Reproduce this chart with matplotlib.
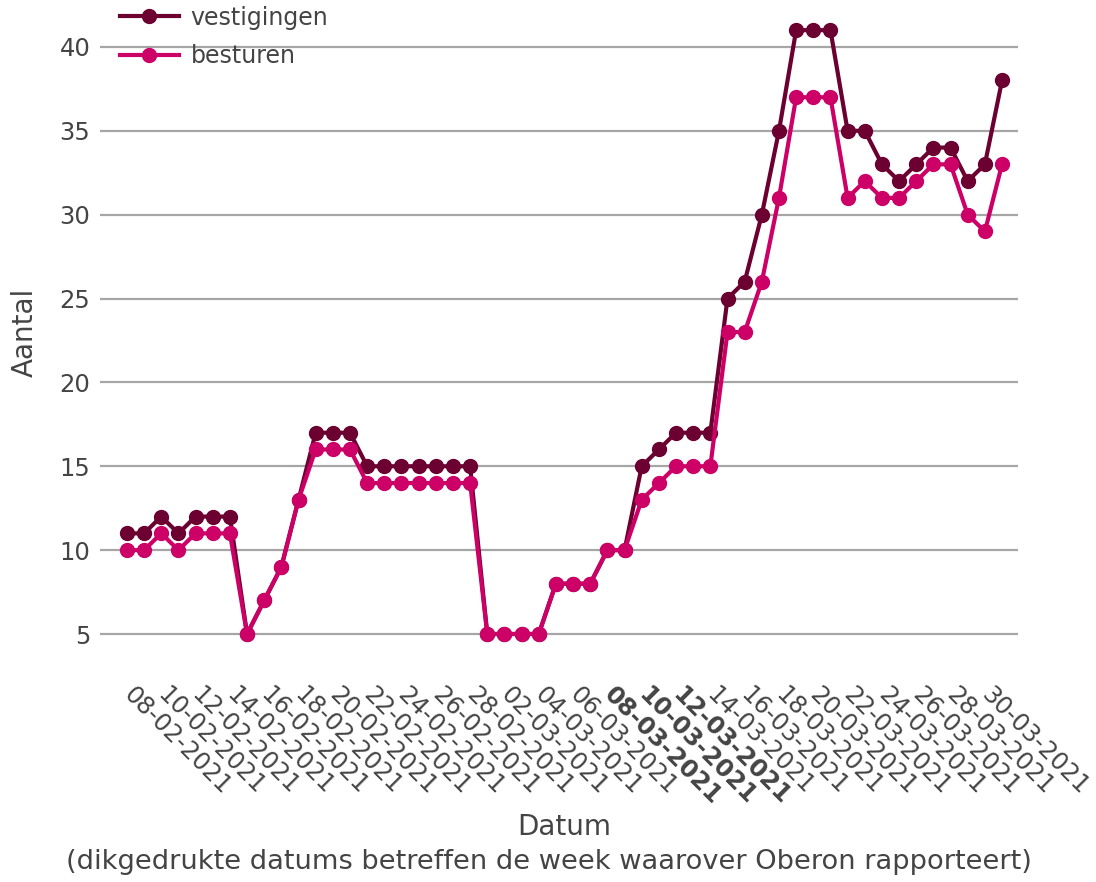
import matplotlib
matplotlib.use('Agg')
import matplotlib.pyplot as plt
import pandas as pd
import numpy as np

start_date = '2021-02-08'
end_date = '2021-03-31'
vestigingen = [11, 11, 12, 11, 12, 12, 12, 5, 7, 9, 13, 17, 17, 17,
               15, 15, 15, 15, 15, 15, 15, 5, 5, 5, 5, 8, 8, 8, 10, 10,
               15, 16, 17, 17, 17, 25, 26, 30, 35, 41, 41, 41, 35, 35,
               33, 32, 33, 34, 34, 32, 33, 38]
besturen = [10, 10, 11, 10, 11, 11, 11, 5, 7, 9, 13, 16, 16, 16,
            14, 14, 14, 14, 14, 14, 14, 5, 5, 5, 5, 8, 8, 8, 10, 10,
            13, 14, 15, 15, 15, 23, 23, 26, 31, 37, 37, 37, 31, 32,
            31, 31, 32, 33, 33, 30, 29, 33]
bold_labels = ['08-03-2021', '10-03-2021', '12-03-2021']
y_ticks = [5, 10, 15, 20, 25, 30, 35, 40]
series_names = ['vestigingen', 'besturen']
colors = ['#6b0031', '#cc0066']

dates = pd.date_range(start_date, end_date, freq='D')
tick_dates = dates[::2]
tick_labels = [d.strftime('%d-%m-%Y') for d in tick_dates]

TXT = '#444444'
plt.rcParams['font.family'] = ['DejaVu Sans']

W, H = 1096, 882
fig = plt.figure(figsize=(W / 100, H / 100), dpi=100)
ax = fig.add_axes([100 / W, 1 - 660 / H, 918 / W, 655 / H])

for vals, name, c in zip([vestigingen, besturen], series_names, colors):
    ax.plot(dates, vals, color=c, lw=3, marker='o', ms=10, label=name,
            zorder=3, clip_on=False)

ax.set_ylim(3.45, 42.5)
ax.set_xlim(dates[0] - pd.Timedelta(days=1.57), dates[0] + pd.Timedelta(days=51.93))
ax.set_yticks(y_ticks)
ax.set_xticks(tick_dates)
ax.set_xticklabels(tick_labels)
ax.grid(axis='y', color='#a6a6a6', lw=1.6, zorder=0)
ax.set_axisbelow(True)
for s in ax.spines.values():
    s.set_visible(False)
ax.tick_params(axis='both', length=0, colors=TXT, labelsize=17.5)
ax.tick_params(axis='y', pad=7)
ax.tick_params(axis='x', pad=22)
for lab in ax.get_xticklabels():
    lab.set_rotation(-45)
    lab.set_rotation_mode('anchor')
    lab.set_ha('left')
    lab.set_va('center')
    if lab.get_text() in bold_labels:
        lab.set_fontweight('bold')

ax.set_ylabel('Aantal', fontsize=20, color=TXT, labelpad=15)
fig.text(564 / W, 1 - 827 / H, 'Datum', fontsize=20, color=TXT, ha='center', va='center')
fig.text(549 / W, 1 - 862 / H,
         '(dikgedrukte datums betreffen de week waarover Oberon rapporteert)',
         fontsize=19.6, color=TXT, ha='center', va='center')

leg = ax.legend(loc='upper left', bbox_to_anchor=(115 / W, 1 - 1 / H),
                bbox_transform=fig.transFigure, frameon=False, fontsize=17,
                handlelength=2.5, handletextpad=0.5, labelspacing=0.6,
                borderaxespad=0, borderpad=0.2)
for t in leg.get_texts():
    t.set_color(TXT)

fig.savefig('out.png', dpi=100, facecolor='white')
